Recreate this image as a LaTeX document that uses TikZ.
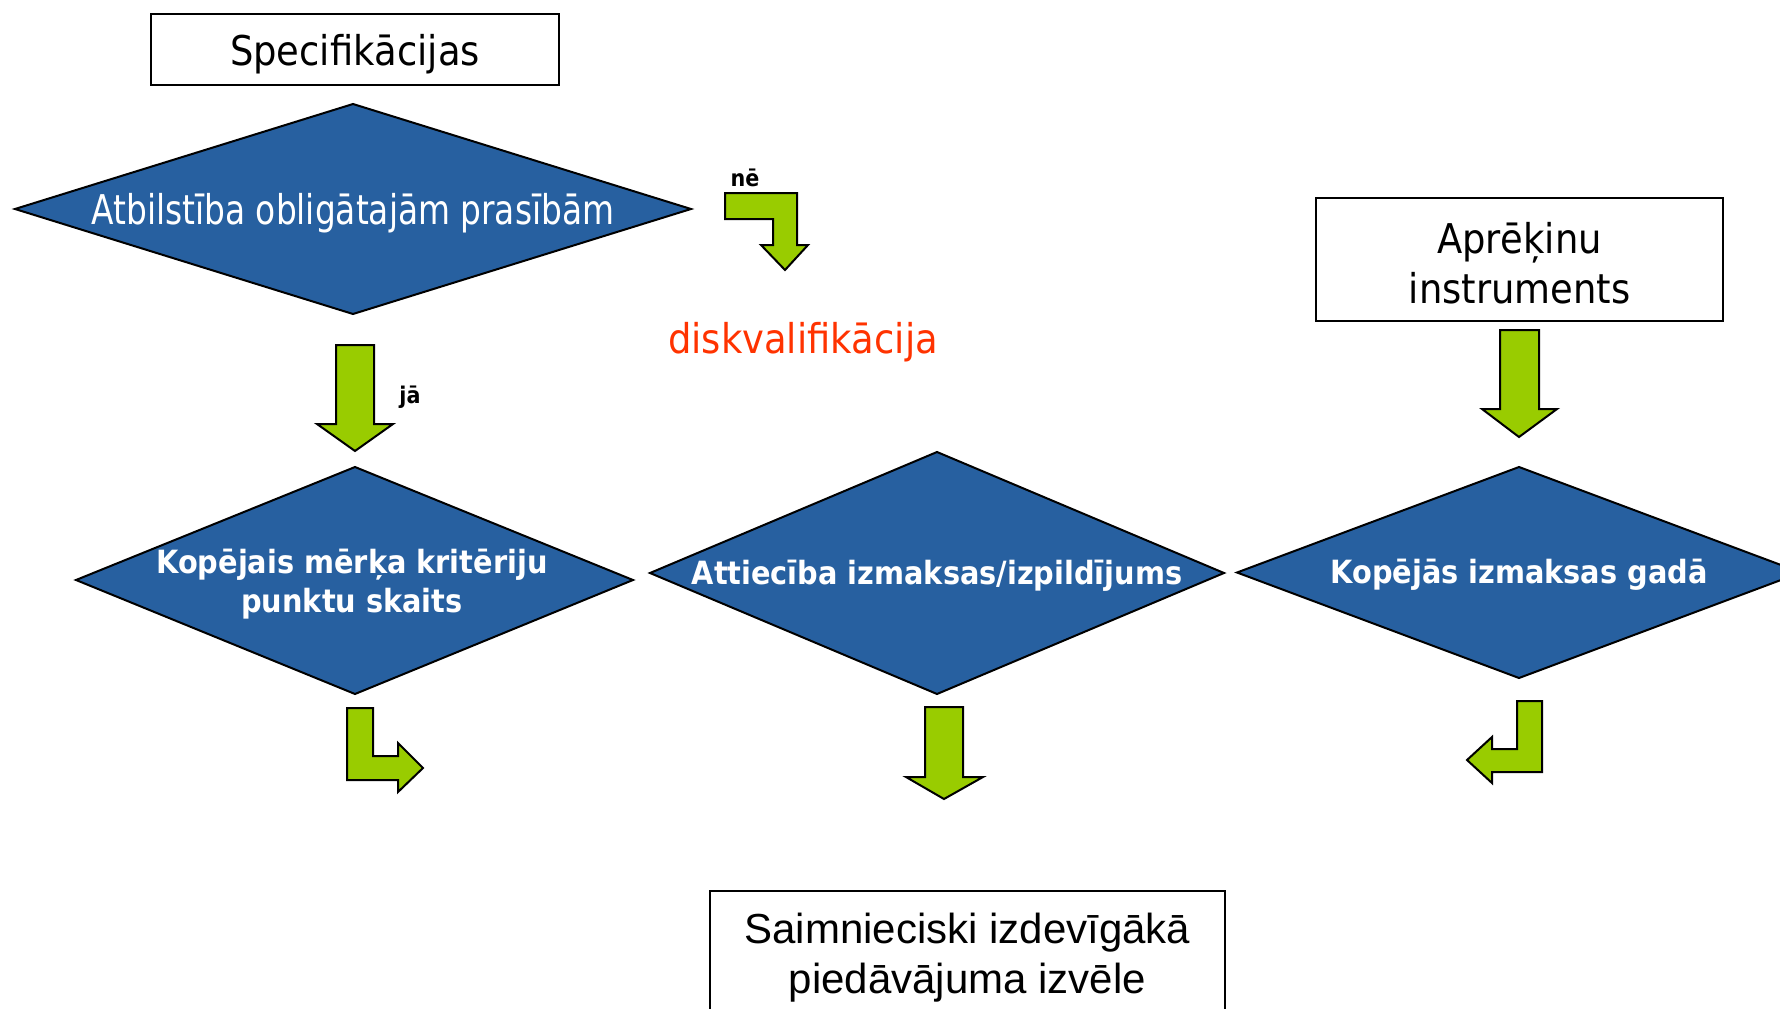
\documentclass[tikz,border=0pt]{standalone}
\usepackage{fontspec}
\newfontfamily\tah{DejaVu Sans Condensed}
\newfontfamily\arl{Liberation Sans}
\definecolor{diablue}{HTML}{2760A0}
\definecolor{arrgreen}{HTML}{99CC00}
\definecolor{disqred}{HTML}{FF3300}
\tikzset{
  box/.style={draw=black, line width=2pt, fill=white, inner sep=0pt},
  dia/.style={draw=black, line width=2pt, fill=diablue},
  blockarrow/.style={draw=black, line width=2pt, fill=arrgreen, line join=miter},
  diatext/.style={text=white, inner sep=0pt, align=center, font=\tah\bfseries\fontsize{32}{39}\selectfont},
  plaintext/.style={inner sep=0pt, align=center, font=\tah\fontsize{41}{50}\selectfont},
  lbl/.style={inner sep=0pt, font=\tah\bfseries\fontsize{23}{26}\selectfont},
}
\begin{document}
\begin{tikzpicture}[x=1pt,y=-1pt]
\clip (0,0) rectangle (1780,1009);
\fill[white] (0,0) rectangle (1780,1009);

% top box
\node[box, minimum width=408pt, minimum height=71pt] (spec) at (355,49.5) {};
\node[plaintext] (spectext) at (355,54) {Specifikācijas};

% diamond 1
\draw[dia] (15,209) -- (353,104) -- (691,209) -- (353,314) -- cycle;
\node[plaintext, text=white] (d1) at (353,213.5) {\scalebox{0.89}[1]{Atbilstība obligātajām prasībām}};

% ne arrow
\draw[blockarrow] (725,193) -- (797,193) -- (797,245) -- (808,245) -- (785,270) -- (761,245) -- (773,245) -- (773,219) -- (725,219) -- cycle;
\node[lbl] (ne) at (745,178) {nē};

\node[plaintext, text=disqred] (disq) at (803,342) {diskvalifikācija};

% ja arrow
\draw[blockarrow] (336,345) -- (374,345) -- (374,424) -- (393,424) -- (355,451) -- (317,424) -- (336,424) -- cycle;
\node[lbl] (ja) at (410,397) {jā};

% Aprekinu box
\node[box, minimum width=407pt, minimum height=123pt] (apr) at (1519.5,259.5) {};
\node[plaintext] (aprtext) at (1519.5,263) {Aprēķinu\\instruments};

\draw[blockarrow] (1500,330) -- (1539,330) -- (1539,409) -- (1557,409) -- (1519,437) -- (1482,409) -- (1500,409) -- cycle;

% diamonds row
\draw[dia] (76,580) -- (355,467) -- (633,580) -- (355,694) -- cycle;
\node[diatext] (d2) at (352,584) {Kopējais mērķa kritēriju\\punktu skaits};

\draw[dia] (650,573) -- (937,452) -- (1224,573) -- (937,694) -- cycle;
\node[diatext] (d3) at (937,576) {Attiecība izmaksas/izpildījums};

\draw[dia] (1237,572.5) -- (1519,467) -- (1801,572.5) -- (1519,678) -- cycle;
\node[diatext] (d4) at (1519,575) {Kopējās izmaksas gadā};

% bottom arrows
\draw[blockarrow] (347,708) -- (373,708) -- (373,756) -- (398,756) -- (398,743) -- (423,768) -- (398,792) -- (398,780) -- (347,780) -- cycle;
\draw[blockarrow] (925,707) -- (963,707) -- (963,777) -- (983,777) -- (944,799) -- (906,777) -- (925,777) -- cycle;
\draw[blockarrow] (1542,701) -- (1542,772) -- (1492,772) -- (1492,783) -- (1467,760) -- (1492,737) -- (1492,749) -- (1517,749) -- (1517,701) -- cycle;

% final box
\node[box, minimum width=515pt, minimum height=126pt] (final) at (967.5,954) {};
\node[inner sep=0pt, align=center, font=\arl\fontsize{42}{50}\selectfont] (finaltext) at (967.5,958) {Saimnieciski izdevīgākā\\piedāvājuma izvēle};
\end{tikzpicture}
\end{document}
